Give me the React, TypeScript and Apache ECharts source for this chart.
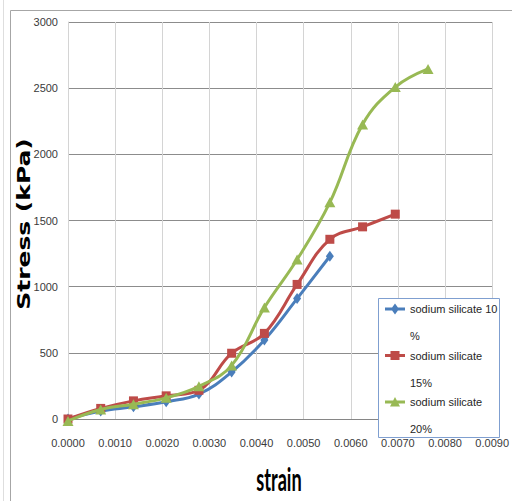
import React, { useEffect, useRef } from "react";
import * as echarts from "echarts";

// ---- data ----
const strain = [0, 0.000694, 0.001389, 0.002083, 0.002778, 0.003472, 0.004167, 0.004861, 0.005556, 0.00625, 0.006944, 0.007639];
const stress10 = [0, 60, 92, 130, 188, 355, 597, 910, 1230];
const stress15 = [0, 80, 137, 175, 217, 497, 647, 1017, 1358, 1452, 1548];
const stress20 = [-15, 72, 112, 160, 247, 405, 842, 1205, 1637, 2226, 2508, 2645];
const seriesNames = ["sodium silicate 10 %", "sodium silicate 15%", "sodium silicate 20%"];
const xMin = 0;
const xMax = 0.009;
const xStep = 0.001;
const yMin = 0;
const yMax = 3000;
const yStep = 500;
const xTitle = "strain";
const yTitle = "Stress (kPa)";

const colors = ["#4A7EBB", "#BE4B48", "#98B954"];
const tickFont = '"Liberation Sans", Arial, sans-serif';

const EXT = "M0,0M20,40";
const LINE = "M0,5L20,5L20,8L0,8Z";
const icons = [
  "path://" + EXT + LINE + "M10,1L14,6.5L10,12L6,6.5Z",
  "path://" + EXT + LINE + "M5.5,2L14.5,2L14.5,11L5.5,11Z",
  "path://" + EXT + LINE + "M10,1.5L15,11L5,11Z",
];

function pairs(ys: number[]) {
  return ys.map((y, i) => [strain[i], y]);
}

export default function App() {
  const ref = useRef<HTMLDivElement>(null);
  useEffect(() => {
    if (!ref.current) return;
    const chart = echarts.init(ref.current, null, { renderer: "svg" });
    const seriesData = [stress10, stress15, stress20];
    const symbols = ["diamond", "rect", "triangle"];
    const sizes: any[] = [[8, 11], [9, 9], [11, 10]];
    chart.setOption({
      animation: false,
      backgroundColor: "#ffffff",
      grid: { left: 68, right: 14, top: 22, bottom: 82, containLabel: false },
      xAxis: {
        type: "value",
        min: xMin,
        max: xMax,
        interval: xStep,
        axisLine: { show: true, lineStyle: { color: "#868686", width: 1 } },
        axisTick: { show: false },
        axisLabel: {
          margin: 18,
          color: "#3a3a3a",
          fontFamily: tickFont,
          fontSize: 11,
          formatter: (v: number) => v.toFixed(4),
        },
        splitLine: { show: true, lineStyle: { color: "#d4d4d4", width: 1 } },
      },
      yAxis: {
        type: "value",
        min: yMin,
        max: yMax,
        interval: yStep,
        axisLine: { show: true, lineStyle: { color: "#d4d4d4", width: 1 } },
        axisTick: { show: false },
        axisLabel: {
          margin: 10,
          color: "#3a3a3a",
          fontFamily: tickFont,
          fontSize: 11,
          formatter: (v: number) => String(v),
        },
        splitLine: { show: true, lineStyle: { color: "#8c8c8c", width: 1 } },
      },
      legend: {
        orient: "vertical",
        left: 385,
        top: 295.5,
        padding: 0,
        itemGap: -7.5,
        itemWidth: 20,
        itemHeight: 40,
        selectedMode: false,
        data: seriesNames.map((n, i) => ({
          name: n,
          icon: icons[i],
          itemStyle: { color: colors[i], borderWidth: 0 },
        })),
        formatter: (name: string) => {
          const k = name.lastIndexOf(" ");
          return name.slice(0, k) + "\n" + name.slice(k + 1);
        },
        textStyle: { fontFamily: tickFont, fontSize: 11, lineHeight: 27, color: "#262626" },
      },
      graphic: [
        { type: "line", silent: true, shape: { x1: 3.5, y1: 0, x2: 3.5, y2: 501 }, style: { stroke: "#dedede", lineWidth: 1 } },
        { type: "rect", silent: true, shape: { x: 10.5, y: 10.5, width: 600, height: 600 }, style: { fill: "none", stroke: "#a6a6a6", lineWidth: 1 } },
        { type: "rect", silent: true, z: 3, shape: { x: 378.5, y: 298.5, width: 121, height: 139 }, style: { fill: "#ffffff", stroke: "#7f9fd0", lineWidth: 1 } },
        {
          type: "text",
          x: 24,
          y: 224,
          rotation: Math.PI / 2,
          scaleY: 0.68,
          style: { text: yTitle, x: 0, y: 0, align: "center", verticalAlign: "middle", font: 'bold 25px "DejaVu Sans", sans-serif', fill: "#000000" },
        },
        {
          type: "text",
          x: 279,
          y: 478.6,
          scaleX: 0.55,
          style: { text: xTitle, x: 0, y: 0, align: "center", verticalAlign: "middle", font: 'bold 33px Lato, "Liberation Sans", sans-serif', fill: "#000000" },
        },
      ],
      series: seriesData.map((d, i) => ({
        name: seriesNames[i],
        type: "line",
        data: pairs(d),
        smooth: 0.4,
        clip: false,
        symbol: symbols[i],
        symbolSize: sizes[i],
        lineStyle: { color: colors[i], width: 3 },
        itemStyle: { color: colors[i], borderWidth: 0 },
        z: 2 + i * 0.1,
      })),
    });
    return () => chart.dispose();
  }, []);
  return <div ref={ref} style={{ position: "fixed", left: 0, top: 0, width: 512, height: 501 }} />;
}
